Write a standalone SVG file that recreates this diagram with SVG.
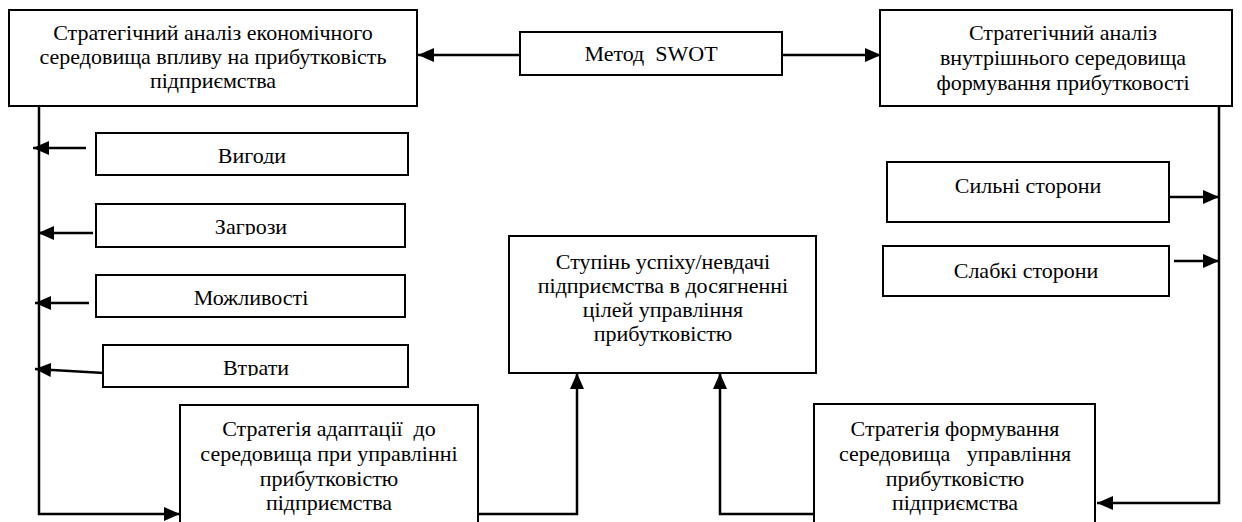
<svg xmlns="http://www.w3.org/2000/svg" width="1242" height="522" viewBox="0 0 1242 522">
<style>
.box{fill:#fff;stroke:#000;stroke-width:2}
.t{font-family:"Liberation Serif","Times New Roman",serif;font-size:22px;fill:#000;text-anchor:middle}
.c{fill:none;stroke:#000;stroke-width:2.5;marker-end:url(#ah)}
</style>
<defs>
<marker id="ah" markerUnits="userSpaceOnUse" viewBox="0 0 16 14" refX="16" refY="7" markerWidth="16" markerHeight="14" orient="auto">
<path d="M0,0 L16,7 L0,14 z" fill="#000"/>
</marker>
<clipPath id="cl1"><rect x="90" y="130" width="330" height="34"/></clipPath>
<clipPath id="cl2"><rect x="90" y="200" width="330" height="35"/></clipPath>
<clipPath id="cl3"><rect x="90" y="340" width="330" height="36"/></clipPath>
</defs>
<rect width="1242" height="522" fill="#fff"/>
<g id="connectors">
<path class="c" d="M520,55 H418"/>
<path class="c" d="M782,55 H881"/>
<path class="c" d="M39,106 V514 H180"/>
<path class="c" d="M86,148 H33"/>
<path class="c" d="M93,233 H38"/>
<path class="c" d="M89,303 H35"/>
<path class="c" d="M104,373 L35,369"/>
<path class="c" d="M1219,106 V503 H1097"/>
<path class="c" d="M1169,197 H1219"/>
<path class="c" d="M1174,261 H1219"/>
<path class="c" d="M476,514 H577 V373"/>
<path class="c" d="M816,514 H720 V373"/>
</g>
<g id="n-econ">
<rect class="box" x="9" y="10" width="408" height="96"/>
<text class="t" x="213" y="40">Стратегічний аналіз економічного</text>
<text class="t" x="213" y="64">середовища впливу на прибутковість</text>
<text class="t" x="213" y="88">підприємства</text>
</g>
<g id="n-swot">
<rect class="box" x="520" y="32" width="262" height="43"/>
<text class="t" x="651" y="61" xml:space="preserve">Метод  SWOT</text>
</g>
<g id="n-internal">
<rect class="box" x="880" y="10" width="352" height="96"/>
<text class="t" x="1063" y="40">Стратегічний аналіз</text>
<text class="t" x="1063" y="65">внутрішнього середовища</text>
<text class="t" x="1063" y="90">формування прибутковості</text>
</g>
<g id="n-benefits">
<rect class="box" x="96" y="133" width="312" height="42"/>
<text class="t" x="252" y="163" clip-path="url(#cl1)">Вигоди</text>
</g>
<g id="n-threats">
<rect class="box" x="96" y="204" width="309" height="43"/>
<text class="t" x="251" y="234" clip-path="url(#cl2)">Загрози</text>
</g>
<g id="n-opps">
<rect class="box" x="96" y="275" width="309" height="42"/>
<text class="t" x="251" y="305">Можливості</text>
</g>
<g id="n-losses">
<rect class="box" x="103" y="345" width="305" height="42"/>
<text class="t" x="256" y="375" clip-path="url(#cl3)">Втрати</text>
</g>
<g id="n-strong">
<rect class="box" x="887" y="162" width="282" height="60"/>
<text class="t" x="1028" y="193">Сильні сторони</text>
</g>
<g id="n-weak">
<rect class="box" x="883" y="246" width="286" height="50"/>
<text class="t" x="1026" y="278">Слабкі сторони</text>
</g>
<g id="n-success">
<rect class="box" x="509" y="236" width="307" height="137"/>
<text class="t" x="663" y="269">Ступінь успіху/невдачі</text>
<text class="t" x="663" y="293">підприємства в досягненні</text>
<text class="t" x="663" y="317">цілей управління</text>
<text class="t" x="663" y="341">прибутковістю</text>
</g>
<g id="n-adapt">
<rect class="box" x="180" y="405" width="298" height="130"/>
<text class="t" x="329" y="436" xml:space="preserve">Стратегія адаптації  до</text>
<text class="t" x="329" y="461">середовища при управлінні</text>
<text class="t" x="329" y="486">прибутковістю</text>
<text class="t" x="329" y="510">підприємства</text>
</g>
<g id="n-form">
<rect class="box" x="814" y="404" width="281" height="130"/>
<text class="t" x="955" y="436">Стратегія формування</text>
<text class="t" x="955" y="461" xml:space="preserve">середовища   управління</text>
<text class="t" x="955" y="486">прибутковістю</text>
<text class="t" x="955" y="510">підприємства</text>
</g>
</svg>
